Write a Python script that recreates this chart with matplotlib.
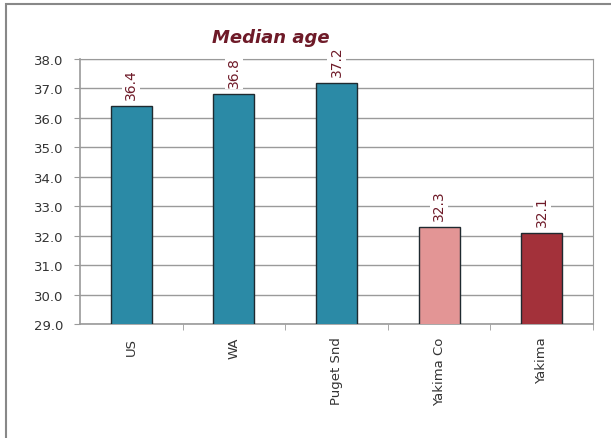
import matplotlib.pyplot as plt
from matplotlib.patches import Rectangle

places = ['US', 'WA', 'Puget Snd', 'Yakima Co', 'Yakima']
median_age = [36.4, 36.8, 37.2, 32.3, 32.1]
bar_colors = ['#2b8aa6', '#2b8aa6', '#2b8aa6', '#e39595', '#a3313a']
label_red = '#6e1a28'

fig = plt.figure(figsize=(6.11, 4.39), dpi=100)
# outer chart frame (runs off the right and bottom edges)
fig.patches.append(Rectangle((6 / 611, -20 / 439), 640 / 611, 454 / 439,
                             transform=fig.transFigure, fill=False,
                             edgecolor='#888888', linewidth=1.5))

ax = fig.add_axes([80 / 611, 1 - 325 / 439, 513 / 611, 265 / 439])
x = range(len(places))
ax.bar(x, median_age, width=0.4, bottom=0, color=bar_colors,
       edgecolor='#1f2a30', linewidth=1.0, zorder=3)
ax.set_ylim(29, 38)
ax.set_xlim(-0.5, len(places) - 0.5)
ax.set_yticks([29 + i for i in range(10)])
ax.set_yticklabels(['%.1f' % (29 + i) for i in range(10)],
                   fontsize=9.5, color='#333333')
ax.yaxis.grid(True, color='#9a9a9a', linewidth=1.0, zorder=0)

# category labels, with ticks on the boundaries between bars
ax.set_xticks(list(x))
ax.set_xticklabels(places, rotation=90, fontsize=9.5, color='#333333')
ax.tick_params(axis='x', length=0, pad=9)
ax.set_xticks([i + 0.5 for i in range(len(places))], minor=True)
ax.tick_params(axis='x', which='minor', length=4, color='#9a9a9a')
ax.tick_params(axis='y', length=4, color='#9a9a9a', pad=8)

for side in ['top', 'right']:
    ax.spines[side].set_color('#9a9a9a')
for side in ['left', 'bottom']:
    ax.spines[side].set_color('#9a9a9a')
    ax.spines[side].set_linewidth(1.2)

for i, v in enumerate(median_age):
    ax.annotate('%.1f' % v, (i, v), xytext=(0, 5), textcoords='offset points',
                rotation=90, ha='center', va='bottom', fontsize=10,
                color=label_red, zorder=4, annotation_clip=False,
                bbox=dict(boxstyle='square,pad=0.15', fc='white', ec='none'))

fig.text(0.443, 0.913, 'Median age', fontsize=13, fontweight='bold',
         fontstyle='italic', color=label_red, ha='center', va='center')

fig.savefig('out.png', dpi=100)
